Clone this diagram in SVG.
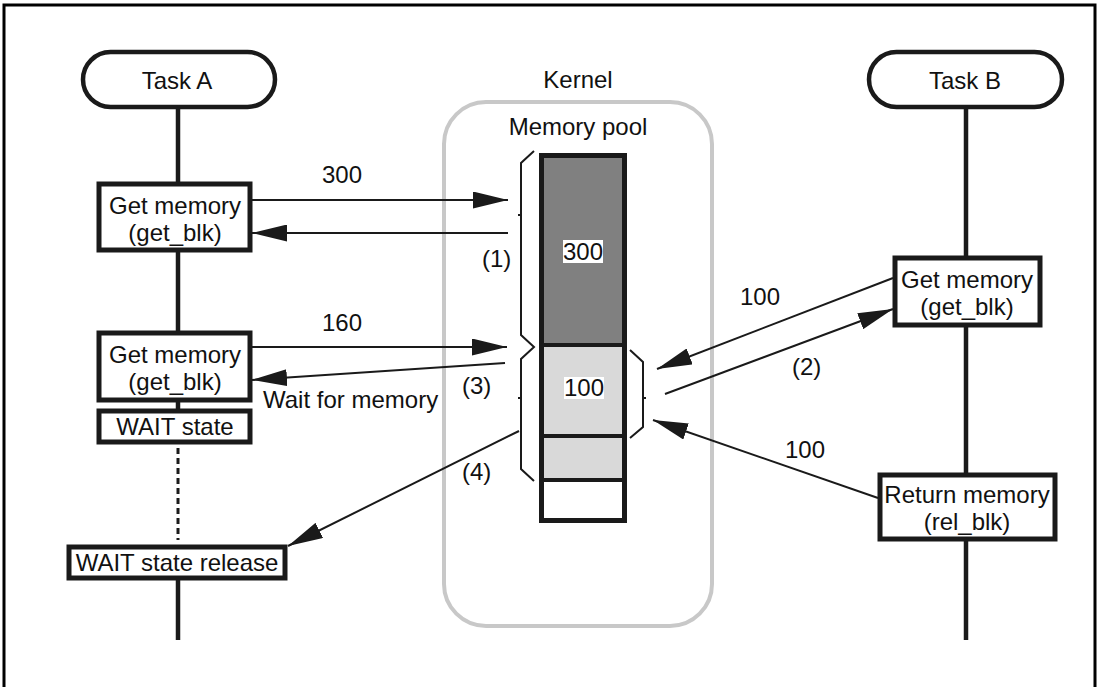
<svg xmlns="http://www.w3.org/2000/svg" width="1100" height="687" viewBox="0 0 1100 687">
<defs>
<marker id="ah" markerUnits="userSpaceOnUse" markerWidth="36" markerHeight="17" refX="35" refY="8.5" orient="auto">
<path d="M0,0 L35,8.5 L0,17 z" fill="#1a1a1a"/>
</marker>
<style>
text{font-family:"Liberation Sans",Arial,sans-serif;font-size:24px;fill:#111;}
.c{text-anchor:middle;}
.box{fill:#fff;stroke:#1a1a1a;stroke-width:5;}
.life{stroke:#1a1a1a;stroke-width:4.5;fill:none;}
.arr{stroke:#1a1a1a;stroke-width:2;fill:none;marker-end:url(#ah);}
.br{stroke:#1a1a1a;stroke-width:2;fill:none;}
</style>
</defs>
<rect width="1100" height="687" fill="#fff"/>
<path d="M4,690 L4,5 L1095,5 L1095,690" fill="none" stroke="#000" stroke-width="3"/>

<g id="lifelines">
<line class="life" x1="178" y1="108" x2="178" y2="182"/>
<line class="life" x1="178" y1="252" x2="178" y2="331"/>
<line class="life" x1="178" y1="402" x2="178" y2="409"/>
<line x1="178" y1="448" x2="178" y2="540" stroke="#1a1a1a" stroke-width="3" stroke-dasharray="6,4"/>
<line class="life" x1="178" y1="580" x2="178" y2="640"/>
<line class="life" x1="966" y1="108" x2="966" y2="256"/>
<line class="life" x1="966" y1="327" x2="966" y2="473"/>
<line class="life" x1="966" y1="541" x2="966" y2="640"/>
</g>

<g id="kernel">
<rect x="444" y="102" width="268" height="524" rx="42" fill="none" stroke="#c8c8c8" stroke-width="4"/>
<text class="c" x="578" y="88">Kernel</text>
<text class="c" x="578" y="135">Memory pool</text>
</g>

<g id="pool">
<rect x="541" y="155" width="84" height="190" fill="#808080"/>
<rect x="541" y="345" width="84" height="90" fill="#d9d9d9"/>
<rect x="541" y="436" width="84" height="44" fill="#d9d9d9"/>
<rect x="541" y="480" width="84" height="41" fill="#fff"/>
<line x1="541" y1="345" x2="625" y2="345" stroke="#1a1a1a" stroke-width="4"/>
<line x1="541" y1="436" x2="625" y2="436" stroke="#1a1a1a" stroke-width="4"/>
<line x1="541" y1="480" x2="625" y2="480" stroke="#1a1a1a" stroke-width="4"/>
<rect x="541.5" y="155.5" width="83" height="365" fill="none" stroke="#1a1a1a" stroke-width="5"/>
<rect x="563" y="240" width="40" height="23" fill="#fff"/>
<text class="c" x="583" y="260">300</text>
<rect x="564" y="377" width="40" height="22" fill="#fff"/>
<text class="c" x="584" y="396">100</text>
</g>

<g id="braces">
<path class="br" d="M534,151 L521,163 L521,335 L534,347 L521,359 L521,469 L534,481"/>
<path class="br" d="M521,215 L518,215 M521,398 L518,398"/>
<path class="br" d="M630,350 L643,362 L643,427 L630,438 M643,398 L646,398"/>
</g>

<g id="taskA">
<rect x="83" y="52" width="192" height="55" rx="27.5" fill="#fff" stroke="#1a1a1a" stroke-width="4.5"/>
<text class="c" x="177" y="89">Task A</text>
</g>
<g id="getA1">
<rect class="box" x="99" y="184" width="151" height="66"/>
<text class="c" x="175" y="214">Get memory</text>
<text class="c" x="175" y="241">(get_blk)</text>
</g>
<g id="getA2">
<rect class="box" x="99" y="333" width="151" height="67"/>
<text class="c" x="175" y="363">Get memory</text>
<text class="c" x="175" y="390">(get_blk)</text>
</g>
<g id="waitA">
<rect class="box" x="99" y="411" width="151" height="31"/>
<text class="c" x="175" y="435">WAIT state</text>
</g>
<g id="releaseA">
<rect class="box" x="69" y="547" width="216" height="31"/>
<text class="c" x="177" y="571">WAIT state release</text>
</g>

<g id="taskB">
<rect x="869" y="52" width="193" height="55" rx="27.5" fill="#fff" stroke="#1a1a1a" stroke-width="4.5"/>
<text class="c" x="965" y="89">Task B</text>
</g>
<g id="getB">
<rect class="box" x="895" y="258" width="145" height="67"/>
<text class="c" x="967" y="288">Get memory</text>
<text class="c" x="967" y="315">(get_blk)</text>
</g>
<g id="returnB">
<rect class="box" x="880" y="475" width="175" height="64"/>
<text class="c" x="967" y="503">Return memory</text>
<text class="c" x="967" y="530">(rel_blk)</text>
</g>

<g id="connectors">
<line class="arr" x1="252" y1="200" x2="508" y2="200"/>
<line class="arr" x1="508" y1="233" x2="252" y2="233"/>
<line class="arr" x1="252" y1="347" x2="507" y2="347"/>
<line class="arr" x1="505" y1="363" x2="252" y2="380"/>
<line class="arr" x1="519" y1="431" x2="288" y2="546"/>
<line class="arr" x1="893" y1="278" x2="657" y2="369"/>
<line class="arr" x1="665" y1="394" x2="893" y2="309"/>
<line class="arr" x1="878" y1="498" x2="653" y2="420"/>
</g>

<g id="labels">
<text x="322" y="183">300</text>
<text x="322" y="331">160</text>
<text x="482" y="267">(1)</text>
<text x="462" y="394">(3)</text>
<text x="462" y="480">(4)</text>
<text x="263" y="408">Wait for memory</text>
<text x="740" y="305">100</text>
<text x="792" y="375">(2)</text>
<text x="785" y="458">100</text>
</g>
</svg>
